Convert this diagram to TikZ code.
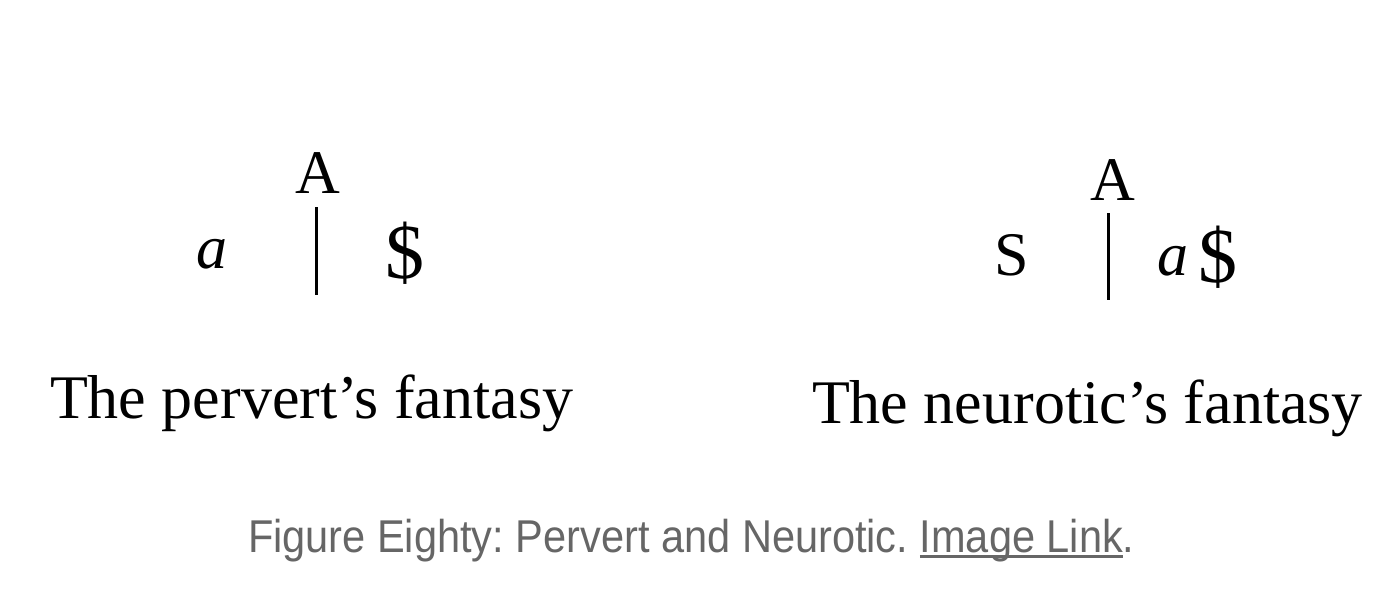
\documentclass[tikz,border=0pt]{standalone}
\usepackage{fontspec}
\setmainfont{Liberation Serif}
\setsansfont{Liberation Sans}
\definecolor{capgray}{HTML}{666666}
\newcommand\myul[1]{\setbox0\hbox{#1}\rlap{\rule[-5.5pt]{\wd0}{2.4pt}}\box0}
\tikzset{
  lbl/.style={inner sep=0pt, outer sep=0pt, anchor=base, font=\fontsize{62}{70}\selectfont},
  dollar/.style={lbl, font=\fontsize{78}{80}\selectfont},
  title/.style={inner sep=0pt, outer sep=0pt, anchor=base west, font=\fontsize{62}{70}\selectfont},
  caption/.style={inner sep=0pt, outer sep=0pt, anchor=base west, text=capgray, font=\sffamily\fontsize{46}{50}\selectfont},
  bar/.style={line width=3pt, black}
}
\begin{document}
\frenchspacing
\begin{tikzpicture}[x=1pt,y=-1pt]
\useasboundingbox (0,0) rectangle (1394,590);
% left diagram
\node[lbl] (A1) at (318,193) {A};
\node[lbl] (a1) at (212,268) {\itshape a};
\node[dollar] (s1) at (405,278) {\$};
\coordinate (t1) at (316,207);
\coordinate (b1) at (316,295);
\draw[bar] (t1) -- (b1);
\node[title] (cap1) at (50,418) {The pervert’s fantasy};
% right diagram
\node[lbl] (A2) at (1113,200) {A};
\node[lbl] (S2) at (1012,275) {S};
\node[lbl] (a2) at (1173,275) {\itshape a};
\node[dollar] (s2) at (1218,282) {\$};
\coordinate (t2) at (1108,213);
\coordinate (b2) at (1108,300);
\draw[bar] (t2) -- (b2);
\node[title] (cap2) at (812,423) {The neurotic’s fantasy};
% caption
\node[caption] (fig) at (248,552) {\scalebox{0.903}[1]{Figure Eighty: Pervert and Neurotic. \myul{Image Link}.}};
\end{tikzpicture}
\end{document}
